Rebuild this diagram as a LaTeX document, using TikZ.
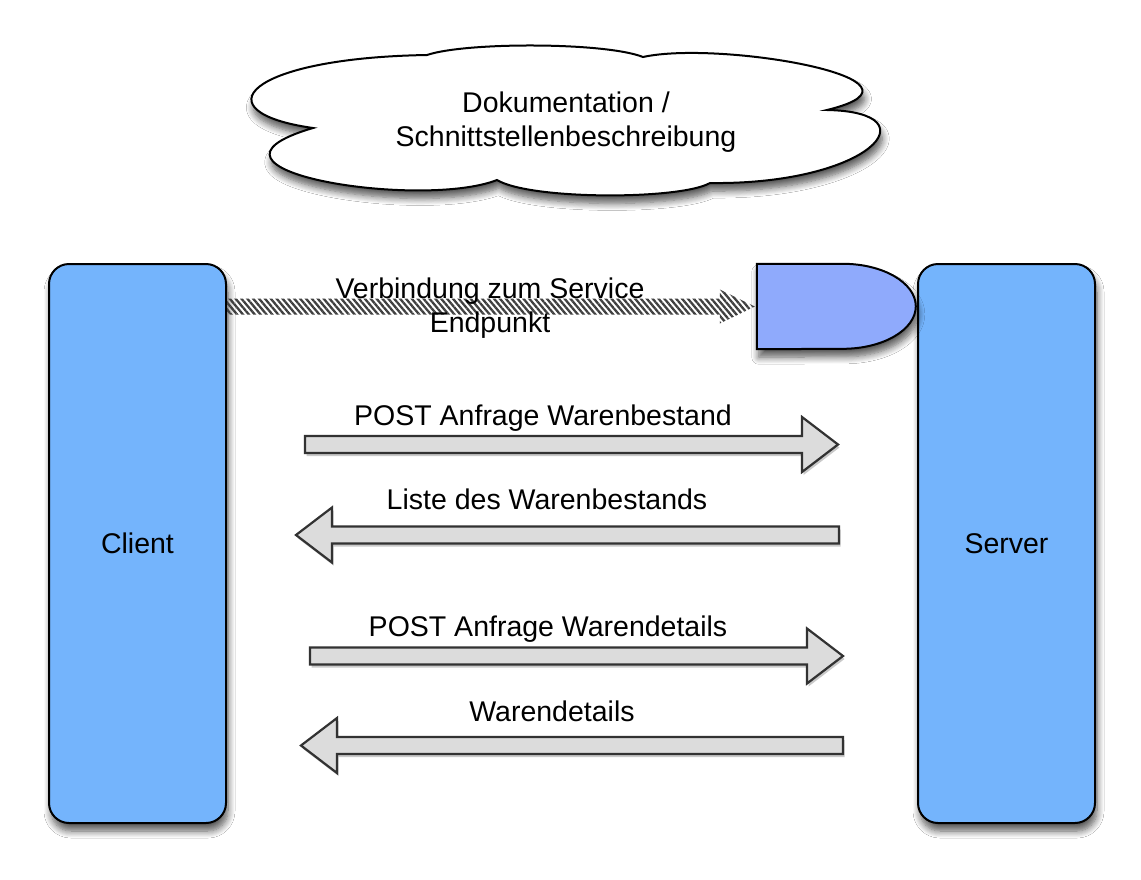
\documentclass[tikz,border=0pt]{standalone}
\usepackage{fontspec}
\setmainfont{Liberation Sans}
\usetikzlibrary{shadows.blur,patterns.meta,calc}

\definecolor{boxblue}{RGB}{116,180,252}
\definecolor{epblue}{RGB}{143,170,252}
\definecolor{arrfill}{RGB}{220,220,220}
\definecolor{arrline}{RGB}{50,50,50}

\tikzset{
  txt/.style={font=\fontsize{28.5}{34}\selectfont, inner sep=0pt, text=black},
  softshadow/.style={blur shadow={shadow xshift=2pt, shadow yshift=-8pt, shadow blur radius=7pt, shadow blur steps=8, shadow opacity=65}},
  bigbox/.style={draw=black, line width=2pt, fill=boxblue, rounded corners=20pt,
    minimum width=177pt, minimum height=559pt, inner sep=0pt,
    font=\fontsize{28.5}{34}\selectfont, softshadow},
  dshape/.style={draw=black, line width=2pt, fill=epblue, softshadow},
  cloudshape/.style={draw=black, line width=2pt, fill=white, softshadow},
  hatcharrow/.style={pattern={Lines[angle=-50,distance=4.5pt,line width=2.3pt]}, pattern color=black!75},
  blockarrow/.style={draw=arrline, line width=2.2pt, fill=arrfill, line join=miter,
    drop shadow={shadow xshift=1.5pt, shadow yshift=-3pt, fill=black!35, opacity=0.6}},
}

\begin{document}
\begin{tikzpicture}[x=1pt,y=-1pt]
\useasboundingbox (0,0) rectangle (1141,879);
\fill[white] (0,0) rectangle (1141,879);

% cloud
\path[cloudshape] (313,128)
  .. controls (200,112) and (245,58) .. (427,55)
  .. controls (465,42) and (605,42) .. (643,57)
  .. controls (720,40) and (950,80) .. (827,110)
  .. controls (935,112) and (870,185) .. (710,183)
  .. controls (680,200) and (530,200) .. (497,180)
  .. controls (420,210) and (170,170) .. (313,128) -- cycle;
\node[txt, align=center] (doc) at (566,122) {Dokumentation /\\Schnittstellenbeschreibung};

% client and server
\node[bigbox] (client) at (137.5,543.5) {Client};
\node[bigbox] (server) at (1006.5,543.5) {Server};

% service endpoint
\node[minimum width=159pt, minimum height=85pt, inner sep=0pt] (ep) at (836.5,306.5) {};
\path[dshape] (ep.north west) -- ++(86,0)
  arc[start angle=-90, end angle=90, x radius=73, y radius=42.5]
  -- (ep.south west) -- cycle;

% hatched connection arrow
\path[hatcharrow] let \p1=(client.east|-ep.west), \p2=(ep.west) in
  (\x1,\y1+8pt) -- (\x2-37pt,\y1+8pt) -- (\x2-37pt,\y1+17pt) -- (\x2-2pt,\y1)
  -- (\x2-37pt,\y1-17pt) -- (\x2-37pt,\y1-8pt) -- (\x1,\y1-8pt) -- cycle;
\node[txt, align=center] (conn) at (490,308) {Verbindung zum Service\\Endpunkt};

% request / response arrows
\path[blockarrow] (305,436) -- (802,436) -- (802,417) -- (838,444.5) -- (802,472) -- (802,453) -- (305,453) -- cycle;
\node[txt, anchor=base] (l1) at (543,425.5) {POST Anfrage Warenbestand};

\path[blockarrow] (839,526.5) -- (332,526.5) -- (332,507.5) -- (296,535) -- (332,562.5) -- (332,543.5) -- (839,543.5) -- cycle;
\node[txt, anchor=base] (l2) at (547,509) {Liste des Warenbestands};

\path[blockarrow] (310,647.5) -- (807,647.5) -- (807,628.5) -- (843,656) -- (807,683.5) -- (807,664.5) -- (310,664.5) -- cycle;
\node[txt, anchor=base] (l3) at (548,636.5) {POST Anfrage Warendetails};

\path[blockarrow] (843,737) -- (337,737) -- (337,718) -- (301,745.5) -- (337,773) -- (337,754) -- (843,754) -- cycle;
\node[txt, anchor=base] (l4) at (552,721) {Warendetails};
\end{tikzpicture}
\end{document}
